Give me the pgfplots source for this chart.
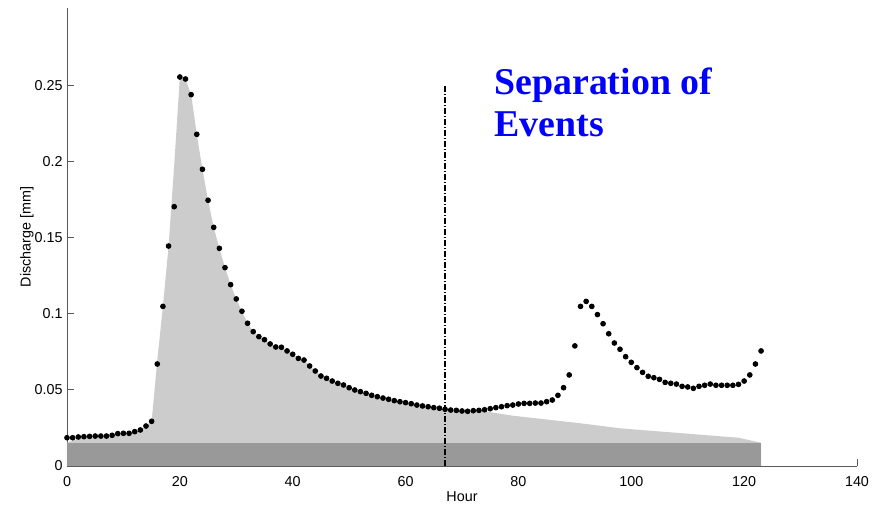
\documentclass[border=0pt]{standalone}
\usepackage{pgfplots}
\usepackage{pgfplotstable}
\pgfplotsset{compat=1.18}
\usepackage{fontspec}
\setmainfont{Liberation Sans}
\newfontfamily\titlefont{Liberation Serif}
\definecolor{lightfill}{RGB}{204,204,204}
\definecolor{darkfill}{RGB}{153,153,153}
\definecolor{axiscol}{RGB}{90,90,90}

\pgfplotstableread{
h q
0 0.0186
1 0.0186
2 0.0191
3 0.0193
4 0.0195
5 0.0197
6 0.0197
7 0.0197
8 0.0202
9 0.0213
10 0.0215
11 0.0215
12 0.0226
13 0.0237
14 0.0263
15 0.0294
16 0.0671
17 0.1050
18 0.1447
19 0.1706
20 0.2559
21 0.2546
22 0.2443
23 0.2182
24 0.1952
25 0.1748
26 0.1570
27 0.1432
28 0.1305
29 0.1193
30 0.1099
31 0.1018
32 0.0939
33 0.0884
34 0.0851
35 0.0831
36 0.0803
37 0.0783
38 0.0781
39 0.0757
40 0.0735
41 0.0708
42 0.0697
43 0.0658
44 0.0625
45 0.0592
46 0.0577
47 0.0559
48 0.0544
49 0.0533
50 0.0515
51 0.0500
52 0.0489
53 0.0478
54 0.0465
55 0.0456
56 0.0447
57 0.0439
58 0.0430
59 0.0423
60 0.0417
61 0.0410
62 0.0401
63 0.0395
64 0.0390
65 0.0384
66 0.0380
67 0.0373
68 0.0368
69 0.0366
70 0.0362
71 0.0360
72 0.0364
73 0.0366
74 0.0370
75 0.0377
76 0.0384
77 0.0390
78 0.0397
79 0.0401
80 0.0408
81 0.0412
82 0.0412
83 0.0414
84 0.0414
85 0.0423
86 0.0434
87 0.0465
88 0.0515
89 0.0599
90 0.0790
91 0.1050
92 0.1083
93 0.1050
94 0.0996
95 0.0936
96 0.0870
97 0.0809
98 0.0768
99 0.0719
100 0.0682
101 0.0647
102 0.0616
103 0.0590
104 0.0581
105 0.0570
106 0.0550
107 0.0544
108 0.0539
109 0.0524
110 0.0520
111 0.0511
112 0.0524
113 0.0531
114 0.0539
115 0.0531
116 0.0531
117 0.0531
118 0.0531
119 0.0537
120 0.0559
121 0.0599
122 0.0671
123 0.0757
}\dots

\pgfplotstableread{
h q
0 0.0153
3 0.0193
4 0.0195
5 0.0197
6 0.0197
7 0.0197
8 0.0202
9 0.0213
10 0.0215
11 0.0215
12 0.0226
13 0.0237
14 0.0263
15 0.0294
16 0.0697
17 0.1050
18 0.1447
19 0.1980
20 0.2559
21 0.2546
22 0.2443
23 0.2182
24 0.1952
25 0.1748
26 0.1570
27 0.1432
28 0.1305
29 0.1193
30 0.1099
31 0.1018
32 0.0939
33 0.0884
34 0.0851
35 0.0831
36 0.0803
37 0.0783
38 0.0781
39 0.0757
40 0.0735
41 0.0708
42 0.0697
43 0.0658
44 0.0625
45 0.0592
46 0.0577
47 0.0559
48 0.0544
49 0.0533
50 0.0515
51 0.0500
52 0.0489
53 0.0478
54 0.0465
55 0.0456
56 0.0447
57 0.0439
58 0.0430
59 0.0423
60 0.0417
61 0.0410
62 0.0401
63 0.0395
64 0.0390
65 0.0384
66 0.0380
67 0.0373
68 0.0368
69 0.0366
70 0.0362
71 0.0360
72 0.0364
73 0.0366
79 0.0331
91 0.0281
98 0.0248
119 0.0186
123 0.0153
}\eventflow

\begin{document}
\begin{tikzpicture}
\begin{axis}[
  scale only axis,
  width=395bp, height=229bp,
  xmin=0, xmax=140, ymin=0, ymax=0.3013,
  axis lines*=left,
  axis line style={draw=axiscol, line width=0.5bp, -},
  tick align=inside,
  major tick length=3.5bp,
  tick style={draw=axiscol, line width=0.5bp},
  xtick={0,20,...,140},
  ytick={0,0.05,0.1,0.15,0.2,0.25},
  scaled y ticks=false,
  yticklabel style={/pgf/number format/fixed, /pgf/number format/precision=2},
  /pgf/number format/assume math mode=true,
  tick label style={font=\fontsize{7.2}{8.6}\selectfont, text=black},
  yticklabel style={inner sep=0pt, xshift=-2bp},
  xticklabel style={inner sep=0pt, yshift=-5bp},
  xlabel={Hour},
  ylabel={Discharge [mm]},
  every axis x label/.style={at={(axis description cs:0.5,-0.0677)}, anchor=center, font=\fontsize{7.2}{8.6}\selectfont},
  every axis y label/.style={at={(axis description cs:-0.0506,0.5)}, anchor=center, rotate=90, font=\fontsize{7.2}{8.6}\selectfont},
  clip=false,
]
\addplot[fill=lightfill, draw=none] table[x=h, y=q] {\eventflow} \closedcycle;
\addplot[fill=darkfill, draw=none] coordinates {(0,0.0153) (123,0.0153)} \closedcycle;
\addplot[black, line width=0.6bp, dash pattern=on 3bp off 1bp on 0.5bp off 1bp] coordinates {(67,0) (67,0.25)};
\addplot[only marks, mark=*, mark size=1.2bp, black] table[x=h, y=q] {\dots};
\node[anchor=base west, inner sep=0pt, text=blue, font=\titlefont\bfseries\fontsize{19}{21}\selectfont] at (axis cs:75.67,0.2447) {Separation of};
\node[anchor=base west, inner sep=0pt, text=blue, font=\titlefont\bfseries\fontsize{19}{21}\selectfont] at (axis cs:75.67,0.2166) {Events};
\end{axis}
\pgfresetboundingbox
\path[use as bounding box] (-33.5bp,-20bp) rectangle (407bp,233bp);
\end{tikzpicture}
\end{document}
